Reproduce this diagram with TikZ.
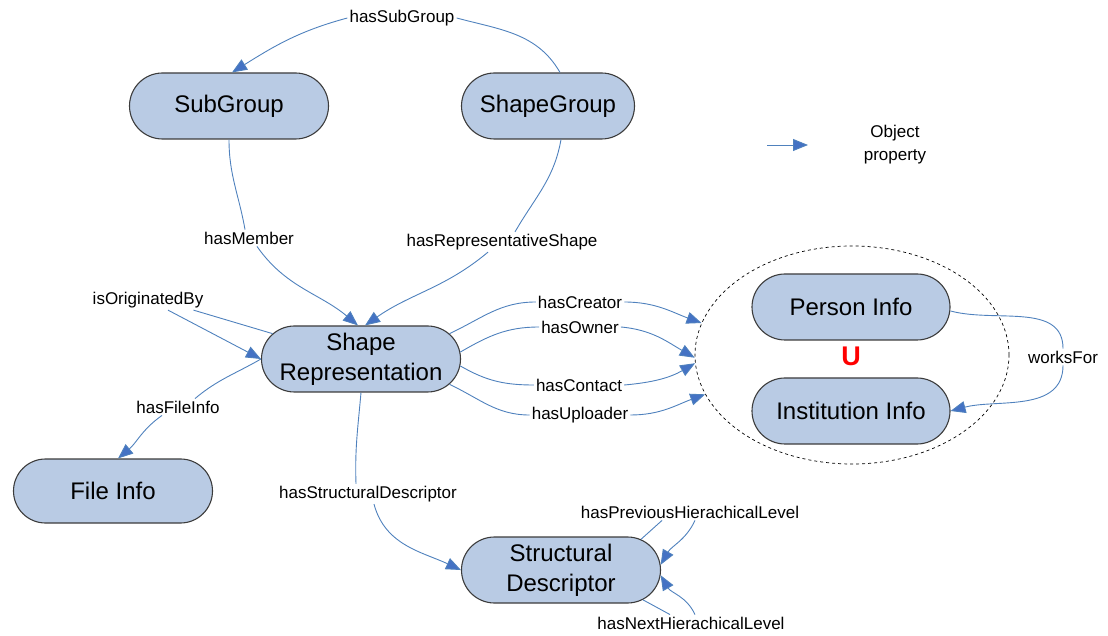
\documentclass[tikz,border=0pt]{standalone}
\usepackage{fontspec}
\setmainfont{Liberation Sans}
\usetikzlibrary{arrows.meta,shapes.misc,shapes.geometric}
\definecolor{conceptfill}{RGB}{185,203,228}
\definecolor{conceptedge}{RGB}{60,60,60}
\definecolor{relblue}{RGB}{79,129,189}
\definecolor{tipblue}{RGB}{68,114,196}
\tikzset{
  concept/.style={rounded rectangle, draw=conceptedge, line width=1.1pt, fill=conceptfill,
    minimum width=203pt, minimum height=66pt, inner sep=2pt, align=center,
    font=\fontsize{24}{30}\selectfont},
  rlabel/.style={inner sep=2pt, font=\fontsize{17}{23}\selectfont},
  rel/.style={draw=relblue, line width=0.9pt},
  relarrow/.style={rel, -{Triangle[length=15pt,width=12pt,fill=tipblue]}},
}
\begin{document}
\begin{tikzpicture}[x=1pt,y=1pt]
\useasboundingbox (0,0) rectangle (1108,635);

% classes
\node[concept] (sub) at (229,529) {SubGroup};
\node[concept, minimum width=177pt] (sg) at (548,529) {ShapeGroup};
\node[concept] (sr) at (361,276) {Shape\\Representation};
\node[concept, minimum height=64pt] (fi) at (113,144) {File Info};
\node[concept, minimum width=202pt] (pi) at (851,328) {Person Info};
\node[concept, minimum width=202pt] (ii) at (851,224) {Institution Info};
\node[concept] (sd) at (561,65) {Structural\\Descriptor};

% union of person and institution
\node[ellipse, draw=black, dashed, line width=0.7pt, minimum width=314pt, minimum height=218pt] (grp) at (852,280) {};
\node[text=red, font=\bfseries\fontsize{27}{30}\selectfont] (un) at (851,279) {U};

% property labels
\node[rlabel] (l1) at (402,617) {hasSubGroup};
\node[rlabel] (l2) at (249,397) {hasMember};
\node[rlabel] (l3) at (502,393) {hasRepresentativeShape};
\node[rlabel] (l4) at (148,335) {isOriginatedBy};
\node[rlabel] (l5) at (178,228) {hasFileInfo};
\node[rlabel] (l6) at (368,141) {hasStructuralDescriptor};
\node[rlabel] (l7c) at (580,333) {hasCreator};
\node[rlabel] (l7o) at (580,308) {hasOwner};
\node[rlabel] (l7t) at (579,250) {hasContact};
\node[rlabel] (l7u) at (580,220) {hasUploader};
\node[rlabel] (l8) at (1063,278) {worksFor};
\node[rlabel] (l9) at (690,123) {hasPreviousHierachicalLevel};
\node[rlabel] (l10) at (691,12) {hasNextHierachicalLevel};

% legend
\coordinate (la) at (767,490);
\coordinate (lb) at (808,490);
\draw[relarrow] (la) -- (lb);
\node[rlabel, align=center] (leg) at (895,490) {Object\\property};

% hasSubGroup
\draw[rel] ([xshift=12pt]sg.north) to[out=120,in=-15] (l1.east);
\draw[relarrow] (l1.west) to[out=195,in=32] ([xshift=3pt]sub.north);

% hasMember
\draw[rel] (sub.south) to[out=-90,in=100] ([xshift=-4pt]l2.north);
\draw[relarrow] ([xshift=8pt]l2.south) to[out=-55,in=140] ([xshift=-3pt]sr.north);

% hasRepresentativeShape
\draw[rel] ([xshift=13pt]sg.south) to[out=-100,in=60] ([xshift=13pt]l3.north);
\draw[relarrow] ([xshift=-14pt]l3.south) to[out=-140,in=35] ([xshift=4pt]sr.north);

% isOriginatedBy
\draw[rel] (sr.164) -- ([xshift=-12pt]l4.south east);
\draw[relarrow] ([xshift=20pt]l4.south) -- (sr.west);

% hasFileInfo
\draw[rel] (sr.west) to[out=-150,in=40] ([xshift=17pt]l5.north);
\draw[relarrow] ([xshift=-16pt]l5.south) to[out=-145,in=40] ([xshift=5pt]fi.north);

% hasStructuralDescriptor
\draw[rel] (sr.south) to[out=-95,in=92] ([xshift=-12pt]l6.north);
\draw[relarrow] ([xshift=6pt]l6.south) to[out=-75,in=155] (sd.west);

% relations to person / institution
\draw[rel] (sr.16) to[out=25,in=180] (l7c.west);
\draw[relarrow] (l7c.east) to[out=0,in=160] (grp.168);
\draw[rel] (sr.4) to[out=30,in=180] (l7o.west);
\draw[relarrow] (l7o.east) to[out=-5,in=150] (grp.181);
\draw[rel] (sr.-4) to[out=-30,in=180] (l7t.west);
\draw[relarrow] (l7t.east) to[out=5,in=-150] (grp.183);
\draw[rel] (sr.-16) to[out=-25,in=180] (l7u.west);
\draw[relarrow] (l7u.east) to[out=0,in=-160] (grp.195);

% worksFor
\draw[rel] ([yshift=-4pt]pi.east) to[out=-15,in=90] (l8.north);
\draw[relarrow] (l8.south) to[out=-90,in=15] (ii.east);

% hierarchy levels
\draw[rel] (sd.21) -- ([xshift=-28pt]l9.south);
\draw[relarrow] ([xshift=5pt]l9.south) to[out=-115,in=60] (sd.3);
\draw[rel] (sd.-20) -- ([xshift=-21pt]l10.north);
\draw[relarrow] ([xshift=4pt]l10.north) to[out=115,in=-60] (sd.-3);
\end{tikzpicture}
\end{document}
